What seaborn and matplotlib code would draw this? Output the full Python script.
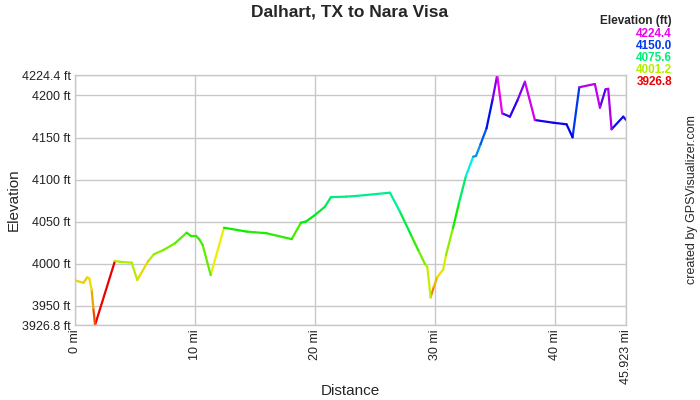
import colorsys
import numpy as np
import pandas as pd
import matplotlib
matplotlib.use("Agg")
import matplotlib.pyplot as plt
from matplotlib.colors import ListedColormap
import seaborn as sns

# distance (mi) and elevation (ft)
dist = [0, 0.7, 1.03, 1.2, 1.39, 1.53, 1.67, 3.33, 3.75, 4.72, 5.19, 6.11, 6.58, 7.36,
        8.33, 9.31, 9.64, 10.08, 10.36, 10.64, 11.31, 12.42, 14.3, 15.97, 18.06, 18.83,
        19.25, 20.0, 20.83, 21.33, 22.6, 23.5, 26.25, 27.08, 28.0, 28.6, 29.17, 29.36,
        29.64, 29.9, 30.19, 30.69, 30.92, 31.5, 32.0, 32.58, 33.19, 33.42, 33.8, 34.3,
        34.8, 35.19, 35.6, 36.25, 36.9, 37.5, 38.33, 39.86, 40.97, 41.47, 42.03, 43.33,
        43.75, 44.22, 44.44, 44.72, 45.69, 45.923]
elev = [3980, 3977, 3983.6, 3982, 3968.4, 3946.6, 3926.8, 4003, 4002, 4001, 3980.4, 4003,
        4011, 4016, 4024, 4036.7, 4033, 4033, 4028.8, 4022, 3986.3, 4042.6, 4038, 4036,
        4029, 4048.6, 4050, 4057.7, 4067.6, 4079, 4079.6, 4080.5, 4084.3, 4061.7, 4034,
        4016, 3999.4, 3996, 3959.7, 3972, 3983.6, 3993, 4010, 4042, 4072, 4104, 4127.2,
        4128, 4142, 4161, 4195, 4224.4, 4178.8, 4174.8, 4195, 4216.4, 4170.8, 4167.6,
        4165.7, 4150.2, 4209.8, 4213.7, 4185.5, 4207.4, 4208, 4159.8, 4174.8, 4171]

x_max = 45.923
y_min, y_max = 3926.8, 4224.4
y_ticks = [3926.8, 3950, 4000, 4050, 4100, 4150, 4200, 4224.4]
x_ticks = [0, 10, 20, 30, 40, 45.923]
legend_vals = [4224.4, 4150.0, 4075.6, 4001.2, 3926.8]

# hue scale red -> yellow -> green -> blue -> magenta
cmap = ListedColormap([colorsys.hsv_to_rgb(h, 1.0, 0.93) for h in np.linspace(0, 300 / 360, 256)])

# each segment is coloured by the elevation at its start
rows = []
for i in range(len(dist) - 1):
    rows.append((i, dist[i], elev[i], elev[i]))
    rows.append((i, dist[i + 1], elev[i + 1], elev[i]))
seg = pd.DataFrame(rows, columns=["seg", "dist", "elev", "col"])

sns.set_style("white")
plt.rcParams["font.family"] = ["Liberation Sans", "DejaVu Sans"]

fig = plt.figure(figsize=(7, 4), dpi=100)
ax = fig.add_axes([75 / 700, 75 / 400, 551 / 700, 250 / 400])

sns.lineplot(data=seg, x="dist", y="elev", hue="col", units="seg", estimator=None,
             palette=cmap, hue_norm=(y_min, y_max), legend=False, linewidth=1.6,
             sort=False, ax=ax)

ax.set_xlim(0, x_max)
ax.set_ylim(y_min, y_max)
ax.set_xticks(x_ticks)
ax.set_xticklabels([f"{t:g} mi" for t in x_ticks], rotation=90, fontsize=9)
ax.set_yticks(y_ticks)
ax.set_yticklabels([f"{t:g} ft" for t in y_ticks], fontsize=9)
ax.tick_params(length=0, pad=3, colors="#222222")
ax.grid(True, color="#c8c8c8", linewidth=1)
for s in ax.spines.values():
    s.set_color("#c8c8c8")
    s.set_linewidth(1)
ax.set_xlabel("")
ax.set_ylabel("")

fig.text(0.5, 1 - 12 / 400, "Dalhart, TX to Nara Visa", ha="center", va="center",
         fontsize=12.5, fontweight="bold")
fig.text(0.5, 1 - 391 / 400, "Distance", ha="center", va="center", fontsize=11)
fig.text(14 / 700, 0.5, "Elevation", ha="center", va="center", rotation=90, fontsize=11)
fig.text(692 / 700, 0.5, "created by GPSVisualizer.com", ha="center", va="center",
         rotation=90, fontsize=9)

fig.text(672 / 700, 1 - 21 / 400, "Elevation (ft)", ha="right", va="center",
         fontsize=8.5, fontweight="bold")
for k, v in enumerate(legend_vals):
    fig.text(672 / 700, 1 - (34 + 12 * k) / 400, f"{v:.1f}", ha="right", va="center",
             fontsize=8.5, fontweight="bold", color=cmap((v - y_min) / (y_max - y_min)))

fig.savefig("out.png", dpi=100)
